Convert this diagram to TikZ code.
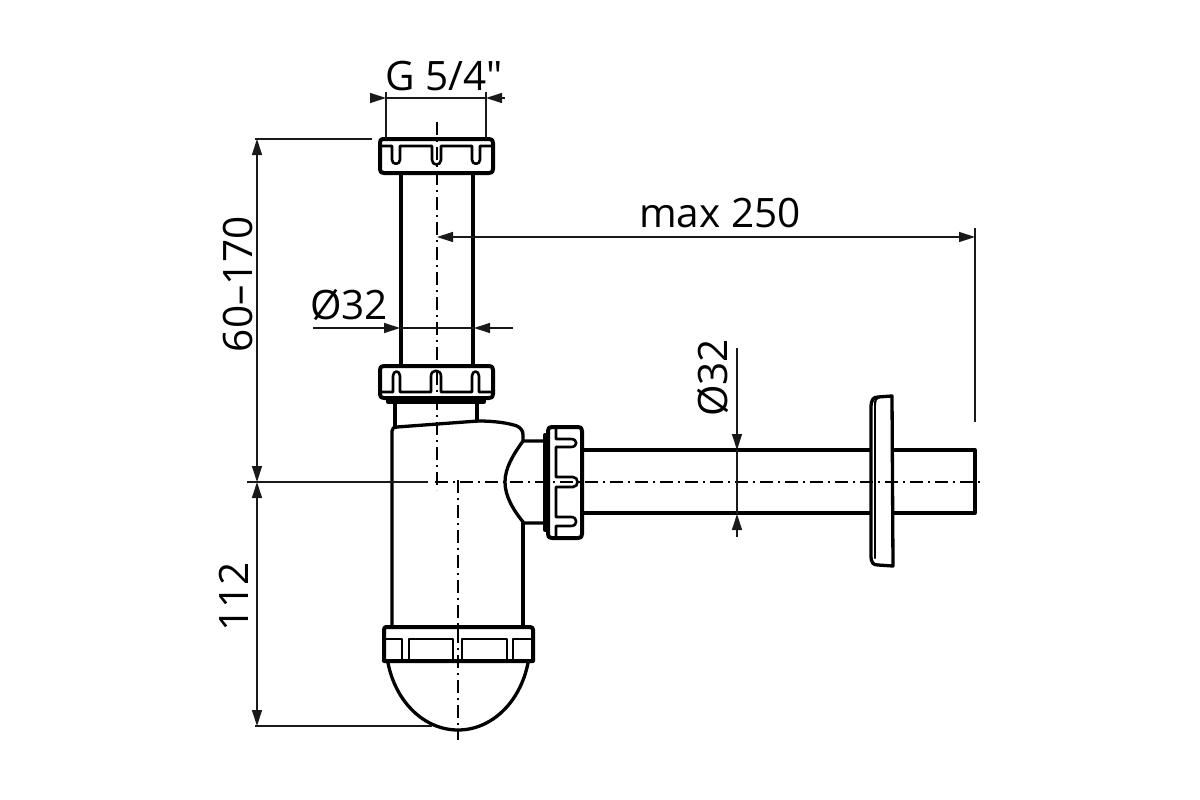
\documentclass[tikz,border=0pt]{standalone}
\usepackage{fontspec}
\setmainfont{Open Sans}
\newfontfamily\labfont{Open Sans}
\usetikzlibrary{arrows.meta}
\tikzset{
 obj/.style={line width=3.3pt,line join=round,line cap=round},
 nut/.style={line width=4pt,line join=round,line cap=round},
 thin obj/.style={line width=2.2pt,line join=round,line cap=round},
 dim/.style={line width=1.3pt,color=black!90},
 dimarrow/.style={dim,-{Triangle[length=16pt,width=10pt]}},
 bothtips/.style={dim,{Triangle[length=16pt,width=10pt]}-{Triangle[length=16pt,width=10pt]}},
 centerline/.style={line width=1.5pt,dash pattern=on 13pt off 5pt on 2pt off 5pt},
 lab/.style={font=\labfont\fontsize{40.5}{40.5}\selectfont,inner sep=0pt},
}
\begin{document}
\begin{tikzpicture}[x=1pt,y=-1pt]
\useasboundingbox[fill=white] (0,0) rectangle (1200,800);

% --- pipes and body
\draw[obj] (401,173) -- (401,366) (473,173) -- (473,366);
\draw[obj] (395,403) -- (395,426) (477,403) -- (477,421);
\draw[obj] (392,626) -- (392,431) .. controls (392,428) and (394,427) .. (397,427)
  -- (478,421) .. controls (495,421) and (508,423) .. (517,426)
  .. controls (521,428) and (523,431) .. (523,435) -- (523,441);
\draw[obj] (523,626) -- (523,523);
\draw[obj] (544,441) -- (523,441) .. controls (513,455) and (505,468) .. (505,482)
  .. controls (505,496) and (513,510) .. (524,523) -- (544,523);
\draw[obj] (583,450) -- (870,450) (583,513) -- (870,513);
\draw[obj] (893,450) -- (975,450) -- (975,513) -- (893,513);

% --- wall flange
\draw[obj] (871,408) .. controls (871,400) and (873,397) .. (878,397) -- (892,396)
  -- (893,566) -- (878,565) .. controls (873,565) and (871,563) .. (871,555) -- cycle;
\draw[thin obj] (875,405) .. controls (875,400) and (876,398) .. (879,397);
\draw[thin obj] (875,405) -- (875,558);

% --- top nut
\draw[nut] (383,139) -- (489,139) .. controls (492,139) and (493,140) .. (493,143)
  -- (493,169) .. controls (493,172) and (492,173) .. (489,173) -- (384,173)
  .. controls (381,173) and (380,172) .. (380,169) -- (380,143) .. controls (380,140) and (381,139) .. (383,139) -- cycle;
\draw[thin obj,line width=2.6pt] (382,146) -- (392,146) -- (392,160)
  .. controls (392,165) and (400,165) .. (400,160) -- (400,146) -- (432,146) -- (432,160)
  .. controls (432,166) and (441,166) .. (441,160) -- (441,146) -- (472,146) -- (472,160)
  .. controls (472,165) and (480,165) .. (480,160) -- (480,146) -- (491,146);

% --- middle nut
\draw[nut] (384,366) -- (489,366) .. controls (492,366) and (493,367) .. (493,370)
  -- (493,394) .. controls (493,397) and (492,398) .. (489,398) -- (384,398)
  .. controls (381,398) and (380,397) .. (380,394) -- (380,370) .. controls (380,367) and (381,366) .. (384,366) -- cycle;
\draw[thin obj,line width=2.6pt] (382,392) -- (393,392) -- (393,376)
  .. controls (393,370) and (400,370) .. (400,376) -- (400,392) -- (431,392) -- (431,376)
  .. controls (431,369) and (441,369) .. (441,376) -- (441,392) -- (472,392) -- (472,376)
  .. controls (472,370) and (479,370) .. (479,376) -- (479,392) -- (491,392);
\draw[obj] (388,399) -- (388,402) -- (484,402) -- (484,399);

% --- side nut
\draw[nut] (552,427) -- (578,427) .. controls (581,427) and (582,428) .. (582,431)
  -- (582,534) .. controls (582,537) and (581,538) .. (578,538) -- (552,538)
  .. controls (549,538) and (548,537) .. (548,534) -- (548,431) .. controls (548,428) and (549,427) .. (552,427) -- cycle;
\draw[obj] (548,435) -- (545,435) -- (545,530) -- (548,530);
\draw[thin obj,line width=2.6pt] (556,429) -- (556,439) -- (571,439)
  .. controls (578,439) and (578,447) .. (571,447) -- (556,447) -- (556,477) -- (573,477)
  .. controls (579,477) and (579,487) .. (573,487) -- (556,487) -- (556,517) -- (571,517)
  .. controls (578,517) and (578,526) .. (571,526) -- (556,526) -- (556,536);

% --- bottom nut
\draw[nut] (386,627) -- (530,627) .. controls (532,627) and (533,628) .. (533,630)
  -- (533,661) -- (384,661) -- (384,630) .. controls (384,628) and (385,627) .. (386,627) -- cycle;
\draw[thin obj,line width=2.6pt] (386,639) -- (402,639) -- (402,660)
  (409,660) -- (409,639) -- (453,639) -- (453,660)
  (462,660) -- (462,639) -- (507,639) -- (507,660)
  (513,660) -- (513,639) -- (531,639);
\draw[thin obj,line width=1.8pt] (458,628) -- (458,639);

% --- centre lines
\draw[obj] (388,663) .. controls (396,703) and (425,730) .. (458,730)
  .. controls (491,730) and (520,703) .. (528,663);
\draw[centerline] (437,122) -- (437,490);
\draw[centerline] (458,480) -- (458,740);
\draw[centerline] (435,482) -- (981,482);

% --- dimensions: G 5/4"
\node[lab] (g) at (444,76) {G 5/4"};
\coordinate (gl) at (386,98);
\coordinate (gr) at (486,98);
\coordinate (gla) at (370,98);
\coordinate (gra) at (505,98);
\draw[dim] (386,92) -- (386,138) (486,92) -- (486,138);
\draw[dim] (gl) -- (gr);
\draw[dimarrow] (gla) -- (gl);
\draw[dimarrow] (gra) -- (gr);

% --- 60-170 and 112
\node[lab,rotate=90] (h) at (238,284) {60–170};
\node[lab,rotate=90] (b) at (234,597) {112};
\coordinate (ht) at (257,139);
\coordinate (hm) at (257,482);
\coordinate (hb) at (257,726);
\draw[dim] (255,139) -- (372,139);
\draw[dim] (247,482) -- (428,482);
\draw[dim] (255,726) -- (432,726);
\draw[bothtips] (ht) -- (hm);
\draw[bothtips] (hm) -- (hb);

% --- phi32 on riser
\node[lab] (d1) at (349,305) {Ø32};
\coordinate (d1l) at (313,328);
\coordinate (d1r) at (513,328);
\draw[dimarrow] (d1l) -- (400,328);
\draw[dimarrow] (d1r) -- (474,328);
\draw[dim] (400,328) -- (474,328);

% --- max 250
\node[lab] (m) at (720,213) {max 250};
\coordinate (ml) at (437,237);
\coordinate (mr) at (975,237);
\draw[bothtips] (ml) -- (mr);
\draw[dim] (975,228) -- (975,422);

% --- phi32 on arm
\node[lab,rotate=90] (d2) at (713,378) {Ø32};
\coordinate (d2t) at (737,348);
\coordinate (d2b) at (737,537);
\draw[dimarrow] (d2t) -- (737,450);
\draw[dimarrow] (d2b) -- (737,514);
\draw[dim] (737,450) -- (737,514);
\end{tikzpicture}
\end{document}
